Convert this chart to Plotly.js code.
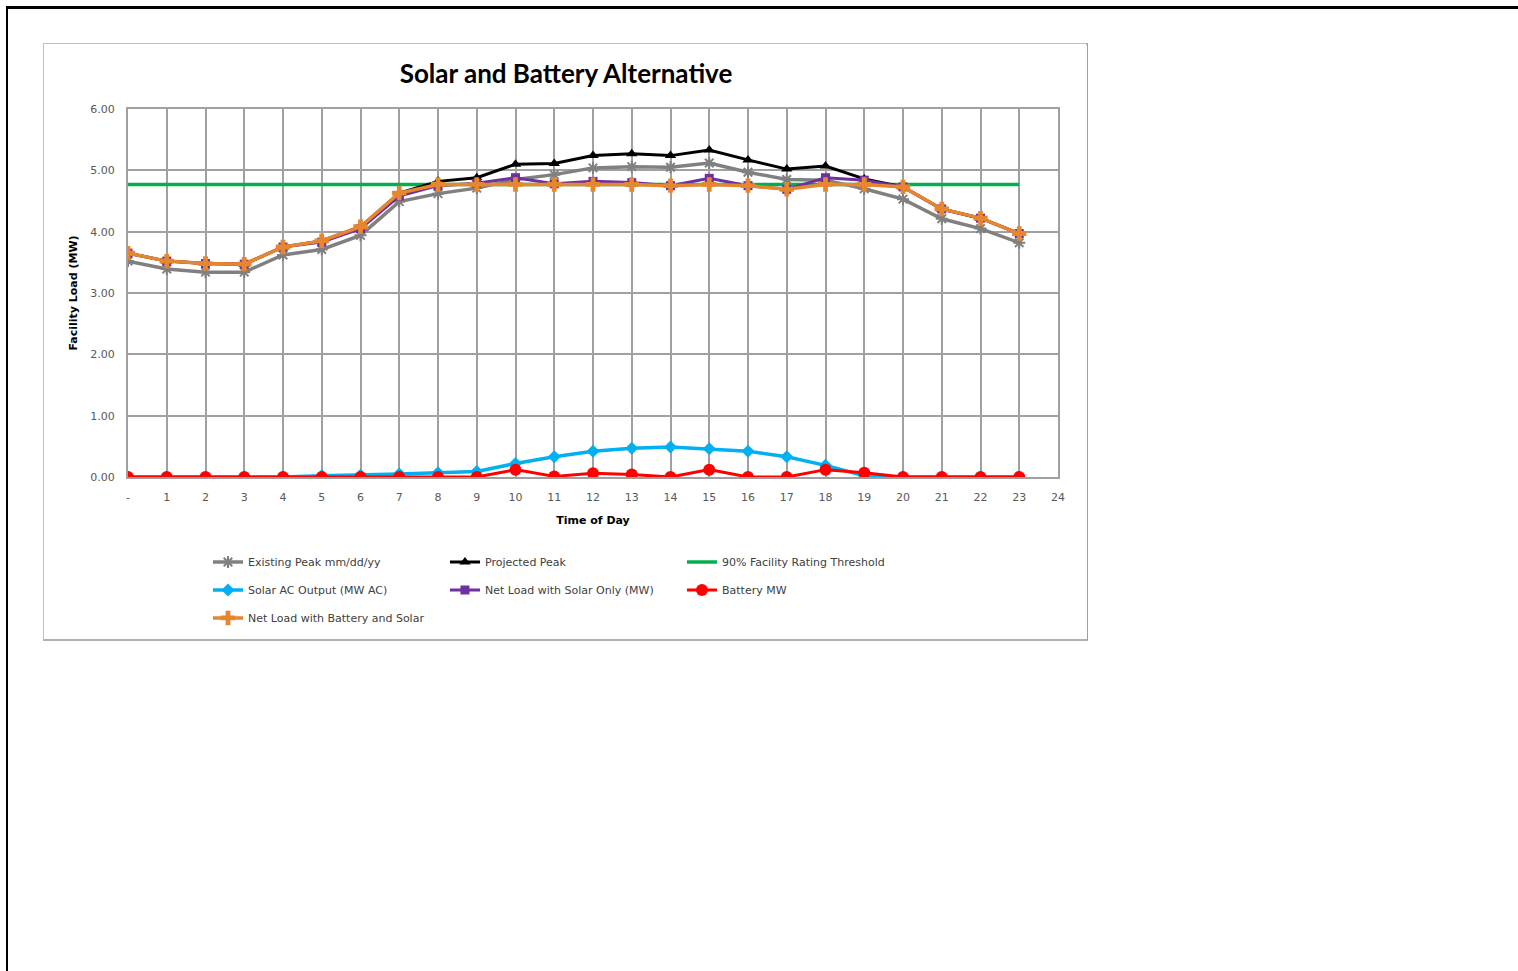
<!DOCTYPE html>
<html>
<head>
<meta charset="utf-8">
<script src="https://cdn.plot.ly/plotly-3.0.1.min.js"></script>
<style>
  html, body { margin: 0; padding: 0; background: #fff; }
  body { width: 1518px; height: 971px; position: relative; overflow: hidden; }
  #frame { position: absolute; left: 6px; top: 6px; width: 1530px; height: 1000px;
           border-top: 3px solid #000; border-left: 2px solid #000; }
  #box { position: absolute; left: 43px; top: 43px; width: 1042px; height: 595px;
         border: 1px solid #c0c0c0; border-right: 2px solid #a0a0a0; border-bottom: 2px solid #b0b0b0; }
  #chart { position: absolute; left: 45px; top: 45px; width: 1042px; height: 594px; }
</style>
</head>
<body>
<div id="frame"></div>
<div id="box"></div>
<div id="chart"></div>
<script>
// ---- data ----
const hours = [0,1,2,3,4,5,6,7,8,9,10,11,12,13,14,15,16,17,18,19,20,21,22,23];
const xTickVals = [0,1,2,3,4,5,6,7,8,9,10,11,12,13,14,15,16,17,18,19,20,21,22,23,24];
const xTickText = ['-','1','2','3','4','5','6','7','8','9','10','11','12','13','14','15','16','17','18','19','20','21','22','23','24'];

const existingPeak = [3.52,3.39,3.34,3.34,3.62,3.71,3.94,4.49,4.62,4.71,4.85,4.93,5.04,5.06,5.05,5.12,4.97,4.85,4.84,4.70,4.53,4.21,4.05,3.82];
const projectedPeak = [3.65,3.52,3.48,3.47,3.75,3.85,4.08,4.63,4.82,4.88,5.10,5.11,5.24,5.27,5.24,5.33,5.17,5.02,5.07,4.86,4.73,4.37,4.22,3.97];
const threshold = [4.77,4.77,4.77,4.77,4.77,4.77,4.77,4.77,4.77,4.77,4.77,4.77,4.77,4.77,4.77,4.77,4.77,4.77,4.77,4.77,4.77,4.77,4.77,4.77];
const solarOutput = [0,0,0,0,0,0.02,0.03,0.05,0.07,0.09,0.22,0.33,0.42,0.47,0.49,0.46,0.42,0.33,0.19,0.02,0,0,0,0];
const netSolarOnly = [3.65,3.52,3.48,3.47,3.75,3.83,4.05,4.58,4.75,4.79,4.88,4.78,4.82,4.80,4.75,4.87,4.75,4.69,4.88,4.84,4.73,4.37,4.22,3.97];
const batteryMW = [0,0,0,0,0,0,0,0,0,0,0.12,0.01,0.06,0.04,0,0.12,0,0,0.12,0.07,0,0,0,0];
const netBatterySolar = [3.65,3.52,3.48,3.47,3.75,3.85,4.08,4.63,4.77,4.77,4.77,4.77,4.77,4.77,4.75,4.77,4.75,4.69,4.77,4.77,4.73,4.37,4.22,3.97];

const names = ['Existing Peak mm/dd/yy','Projected Peak','90% Facility Rating Threshold',
               'Solar AC Output (MW AC)','Net Load with Solar Only (MW)','Battery MW',
               'Net Load with Battery and Solar'];

function tr(y, name, color, width, symbol, size, legend, extra) {
  const t = {
    x: hours, y: y, name: name, type: 'scatter',
    mode: symbol ? 'lines+markers' : 'lines',
    line: {color: color, width: width},
    legend: legend
  };
  if (symbol) t.marker = Object.assign({symbol: symbol, size: size, color: color}, extra || {});
  return t;
}

const traces = [
  tr(existingPeak, names[0], '#808080', 3.5, 'asterisk-open', 10, 'legend', {line: {color: '#808080', width: 2}}),
  tr(projectedPeak, names[1], '#000000', 3, 'triangle-up', 10, 'legend'),
  tr(threshold, names[2], '#00b050', 3.5, null, 0, 'legend'),
  tr(solarOutput, names[3], '#00b0f0', 3.5, 'diamond', 10, 'legend2'),
  tr(netSolarOnly, names[4], '#7030a0', 3, 'square', 9, 'legend2'),
  tr(batteryMW, names[5], '#ff0000', 3, 'circle', 12, 'legend2'),
  tr(netBatterySolar, names[6], '#e6862f', 3.5, 'cross', 12, 'legend3')
];

// draw order: threshold behind data lines
const order = [2,0,1,4,6,3,5];
const data = order.map(i => traces[i]);
data.forEach(t => { t.legendrank = names.indexOf(t.name); });

const tickFont = {family: 'DejaVu Sans, Verdana, sans-serif', size: 11, color: '#595959'};
const legendCommon = {
  orientation: 'h', xanchor: 'left', yanchor: 'middle', yref: 'container',
  x: 0.086, entrywidth: 192, entrywidthmode: 'pixels',
  font: {family: 'DejaVu Sans, Verdana, sans-serif', size: 11, color: '#404040'},
  bgcolor: 'rgba(0,0,0,0)', itemwidth: 30, traceorder: 'normal'
};

const layout = {
  width: 1042, height: 594,
  margin: {l: 83, r: 29, t: 64, b: 162, autoexpand: false},
  paper_bgcolor: '#ffffff', plot_bgcolor: '#ffffff',
  showlegend: true,
  title: {text: '<b>Solar and Battery Alternative</b>', x: 0.5, xanchor: 'center',
          y: 0.951, yanchor: 'middle',
          font: {family: 'Lato, Open Sans, sans-serif', size: 26, color: '#000'}},
  xaxis: {
    range: [0, 24], tickmode: 'array', tickvals: xTickVals, ticktext: xTickText,
    showgrid: true, gridcolor: '#a0a0a0', gridwidth: 2, automargin: false,
    showline: true, linecolor: '#a0a0a0', linewidth: 2, mirror: true,
    zeroline: false, ticks: '', tickfont: tickFont, ticklabelstandoff: 9,
    title: {text: '<b>Time of Day</b>', standoff: 13,
            font: {family: 'DejaVu Sans, Verdana, sans-serif', size: 11, color: '#000'}}
  },
  yaxis: {
    range: [0, 6], dtick: 1, tickformat: '.2f', automargin: false,
    showgrid: true, gridcolor: '#a0a0a0', gridwidth: 2,
    showline: true, linecolor: '#a0a0a0', linewidth: 2, mirror: true,
    zeroline: false, ticks: '', tickfont: tickFont, ticklabelstandoff: 9,
    title: {text: '<b>Facility Load (MW)</b>', standoff: 10,
            font: {family: 'DejaVu Sans, Verdana, sans-serif', size: 11, color: '#000'}}
  },
  legend: Object.assign({}, legendCommon, {y: 0.1296}),
  legend2: Object.assign({}, legendCommon, {y: 0.0825}),
  legend3: Object.assign({}, legendCommon, {y: 0.0354})
};

Plotly.newPlot('chart', data, layout, {displayModeBar: false, staticPlot: true});
</script>
</body>
</html>
